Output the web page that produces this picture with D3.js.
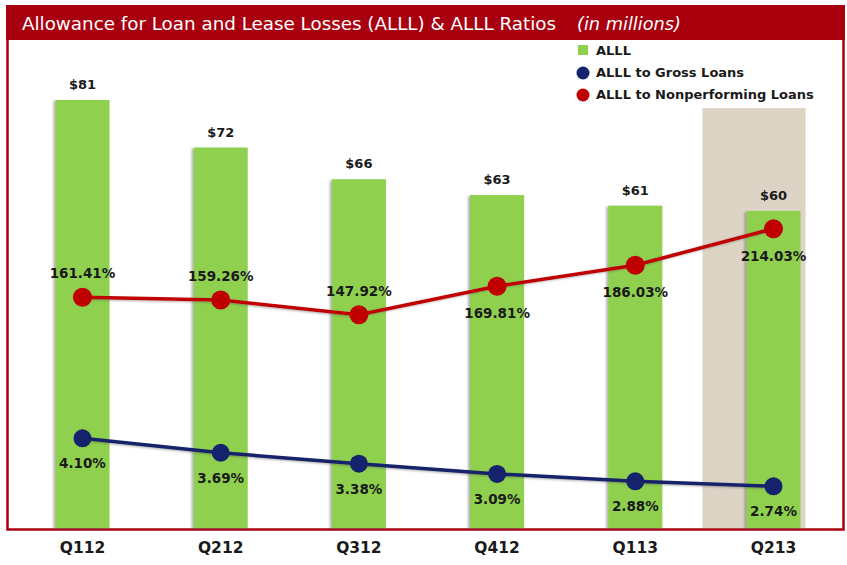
<!DOCTYPE html>
<html>
<head>
<meta charset="utf-8">
<script src="https://cdn.jsdelivr.net/npm/d3@7"></script>
<style>
  body { margin: 0; background: #fff; }
  text { font-family: 'DejaVu Sans', sans-serif; }
</style>
</head>
<body>
<div id="container"></div>
<script>
// DATA
const quarters = ['Q112', 'Q212', 'Q312', 'Q412', 'Q113', 'Q213']
const alll = [81, 72, 66, 63, 61, 60]
const grossRatio = [4.10, 3.69, 3.38, 3.09, 2.88, 2.74]
const nplRatio = [161.41, 159.26, 147.92, 169.81, 186.03, 214.03]
const nplLabelAbove = [true, true, true, false, false, false]
const highlight = 'Q213'

// BOX
const w = 847
const h = 565

const svg = d3.select('#container')
    .append('svg')
    .attr('width', w)
    .attr('height', h)

const defs = svg.append('defs')
const shadow = defs.append('filter').attr('id', 'shadow')
    .attr('x', '-20%').attr('y', '-20%').attr('width', '140%').attr('height', '140%')
shadow.append('feDropShadow')
    .attr('dx', -2).attr('dy', 1).attr('stdDeviation', 1.2)
    .attr('flood-color', '#555').attr('flood-opacity', 0.45)

// SCALES
const xscale = d3.scaleBand()
    .domain(quarters)
    .range([14, 842])
    .paddingInner(0.6087)
    .paddingOuter(0.3)

const ybar = d3.scaleLinear().domain([0, 81]).range([528, 100])
const ynpl = d3.scaleLinear().domain([0, 250]).range([507, 182])
const ygross = d3.scaleLinear().domain([0, 5]).range([583, 406.5])

const cx = d => xscale(d) + xscale.bandwidth() / 2

// FRAME + TITLE
svg.append('rect')
    .attr('x', 7.5).attr('y', 6.5)
    .attr('width', 836).attr('height', 523)
    .attr('fill', 'none').attr('stroke', '#a8000f').attr('stroke-width', 2.5)

svg.append('rect')
    .attr('x', 6).attr('y', 5)
    .attr('width', 839).attr('height', 35)
    .attr('fill', '#a8000f')

svg.append('text')
    .attr('x', 22).attr('y', 29.5)
    .attr('fill', '#fff')
    .attr('textLength', 534)
    .attr('lengthAdjust', 'spacingAndGlyphs')
    .style('font-size', '18.5px')
    .text('Allowance for Loan and Lease Losses (ALLL) & ALLL Ratios')

svg.append('text')
    .attr('x', 577).attr('y', 29.5)
    .attr('fill', '#fff')
    .attr('textLength', 104)
    .attr('lengthAdjust', 'spacingAndGlyphs')
    .style('font-size', '18.5px')
    .style('font-style', 'italic')
    .text('(in millions)')

// HIGHLIGHT
svg.append('rect')
    .attr('x', xscale(highlight) - 44)
    .attr('y', 108)
    .attr('width', xscale.bandwidth() + 49)
    .attr('height', 528 - 108)
    .attr('fill', '#ddd4c6')

// BARS
svg.append('g')
    .selectAll('rect')
    .data(alll)
    .enter()
    .append('rect')
    .attr('x', (d, i) => xscale(quarters[i]))
    .attr('y', d => ybar(d))
    .attr('width', xscale.bandwidth())
    .attr('height', d => ybar(0) - ybar(d))
    .attr('fill', '#8fd14f')
    .attr('filter', 'url(#shadow)')

svg.append('g')
    .selectAll('text')
    .data(alll)
    .enter()
    .append('text')
    .attr('x', (d, i) => cx(quarters[i]))
    .attr('y', d => ybar(d) - 11)
    .attr('text-anchor', 'middle')
    .style('font-size', '13px')
    .style('font-weight', 'bold')
    .attr('fill', '#1a1a1a')
    .text(d => '$' + d)

// LINES
const lineNpl = d3.line().x((d, i) => cx(quarters[i])).y(d => ynpl(d))
const lineGross = d3.line().x((d, i) => cx(quarters[i])).y(d => ygross(d))

svg.append('path')
    .datum(nplRatio)
    .attr('d', lineNpl)
    .attr('fill', 'none')
    .attr('stroke', '#c00000')
    .attr('stroke-width', 3.5)
    .attr('filter', 'url(#shadow)')

svg.append('path')
    .datum(grossRatio)
    .attr('d', lineGross)
    .attr('fill', 'none')
    .attr('stroke', '#14236b')
    .attr('stroke-width', 3.5)
    .attr('filter', 'url(#shadow)')

svg.append('g')
    .selectAll('circle')
    .data(nplRatio)
    .enter()
    .append('circle')
    .attr('cx', (d, i) => cx(quarters[i]))
    .attr('cy', d => ynpl(d))
    .attr('r', 9.5)
    .attr('fill', '#c00000')

svg.append('g')
    .selectAll('circle')
    .data(grossRatio)
    .enter()
    .append('circle')
    .attr('cx', (d, i) => cx(quarters[i]))
    .attr('cy', d => ygross(d))
    .attr('r', 9)
    .attr('fill', '#14236b')

// LINE LABELS
svg.append('g')
    .selectAll('text')
    .data(nplRatio)
    .enter()
    .append('text')
    .attr('x', (d, i) => cx(quarters[i]))
    .attr('y', (d, i) => nplLabelAbove[i] ? ynpl(d) - 19 : ynpl(d) + 32)
    .attr('text-anchor', 'middle')
    .style('font-size', '13.5px')
    .style('font-weight', 'bold')
    .attr('fill', '#1a1a1a')
    .text(d => d.toFixed(2) + '%')

svg.append('g')
    .selectAll('text')
    .data(grossRatio)
    .enter()
    .append('text')
    .attr('x', (d, i) => cx(quarters[i]))
    .attr('y', d => ygross(d) + 30)
    .attr('text-anchor', 'middle')
    .style('font-size', '13.5px')
    .style('font-weight', 'bold')
    .attr('fill', '#1a1a1a')
    .text(d => d.toFixed(2) + '%')

// X AXIS LABELS
svg.append('g')
    .selectAll('text')
    .data(quarters)
    .enter()
    .append('text')
    .attr('x', d => cx(d))
    .attr('y', 553)
    .attr('text-anchor', 'middle')
    .style('font-size', '15.5px')
    .style('font-weight', 'bold')
    .attr('fill', '#1a1a1a')
    .text(d => d)

// LEGEND
const legend = svg.append('g').attr('transform', 'translate(578, 50)')
legend.append('rect')
    .attr('x', 0).attr('y', -5).attr('width', 10).attr('height', 10)
    .attr('fill', '#8fd14f')
legend.append('circle')
    .attr('cx', 5).attr('cy', 23).attr('r', 6.5).attr('fill', '#14236b')
legend.append('circle')
    .attr('cx', 5).attr('cy', 45).attr('r', 6.5).attr('fill', '#c00000')
const legendLabels = ['ALLL', 'ALLL to Gross Loans', 'ALLL to Nonperforming Loans']
legend.selectAll('text.lbl')
    .data(legendLabels)
    .enter()
    .append('text')
    .attr('class', 'lbl')
    .attr('x', 18)
    .attr('y', (d, i) => i * 22 + 5)
    .style('font-size', '13px')
    .style('font-weight', 'bold')
    .attr('fill', '#1a1a1a')
    .text(d => d)
</script>
</body>
</html>
